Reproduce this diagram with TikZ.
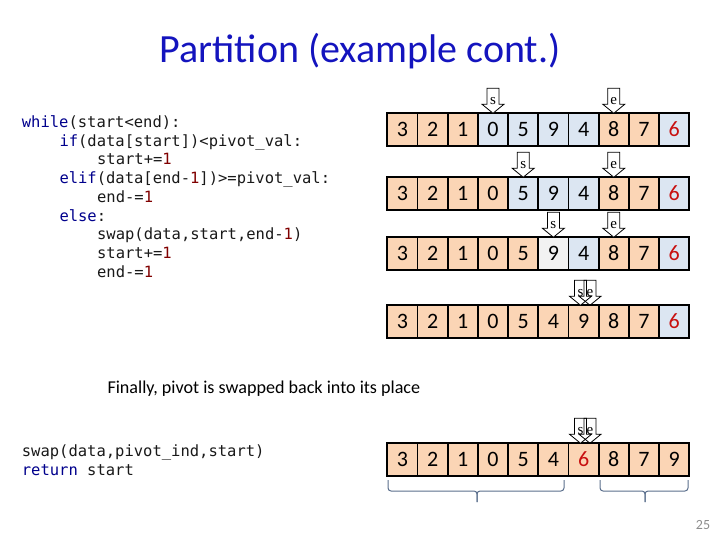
\documentclass[tikz,border=0pt]{standalone}
\usepackage{fontspec}
\setmainfont{Carlito}
\newfontfamily\codefont{DejaVu Sans Mono}
\newfontfamily\letterfont{Liberation Serif}
\definecolor{titleblue}{RGB}{20,20,190}
\definecolor{kwblue}{RGB}{0,0,140}
\definecolor{numred}{RGB}{128,0,0}
\definecolor{codegray}{RGB}{25,25,25}
\definecolor{peach}{RGB}{251,213,181}
\definecolor{bluegray}{RGB}{220,230,242}
\definecolor{lightgray}{RGB}{242,242,242}
\definecolor{digred}{RGB}{200,16,16}
\definecolor{bracecol}{RGB}{90,110,140}
\newcommand\kw[1]{\textcolor{kwblue}{#1}}
\newcommand\nm[1]{\textcolor{numred}{#1}}
\tikzset{
  codeline/.style={anchor=base west, inner sep=0pt, font=\codefont\fontsize{15.5}{18}\selectfont, text=codegray},
  cell/.style={draw=black, line width=1.8pt, minimum width=30.2pt, minimum height=32.5pt, inner sep=0pt, outer sep=0pt, font=\fontsize{22}{24}\selectfont},
  ptr/.style={draw=black, line width=0.8pt, fill=white},
  ptrletter/.style={inner sep=0pt, font=\letterfont\fontsize{15}{15}\selectfont},
  bracket/.style={draw=bracecol, line width=1pt, rounded corners=3pt}
}
% x, ytip, name, letter, fill
\newcommand\dnarrow[5]{%
  \path[ptr,fill=#5] (#1-6,#2-25) -- (#1+6,#2-25) -- (#1+6,#2-9) -- (#1+11,#2-9) -- (#1,#2) -- (#1-11,#2-9) -- (#1-6,#2-9) -- cycle;
  \node[ptrletter] (#3) at (#1,#2-12.5) {#4};
}
\newcommand\cellrow[3]{% row name, center y, list of digit/color/textcolor
  \foreach [count=\i from 0] \d/\c/\t in {#3} {
    \node[cell, fill=\c, text=\t] (#1c\i) at (387.3+15.1+\i*30.2, #2) {\d};
  }
}
\begin{document}
\begin{tikzpicture}[x=1pt,y=-1pt]
\useasboundingbox (0,0) rectangle (720,540);
% title
\node[font=\fontsize{40}{44}\selectfont, text=titleblue, anchor=base] (title) at (360,63) {Partition (example cont.)};
% code
\node[codeline] (c1) at (21.7,127.3) {\kw{while}(start<end):};
\node[codeline] (c2) at (59.3,146.05) {\kw{if}(data[start])<pivot\_val:};
\node[codeline] (c3) at (96.9,164.8) {start+=\nm{1}};
\node[codeline] (c4) at (59.3,183.55) {\kw{elif}(data[end-\nm{1}])>=pivot\_val:};
\node[codeline] (c5) at (96.9,202.3) {end-=\nm{1}};
\node[codeline] (c6) at (59.3,221.05) {\kw{else}:};
\node[codeline] (c7) at (96.9,239.8) {swap(data,start,end-\nm{1})};
\node[codeline] (c8) at (96.9,258.55) {start+=\nm{1}};
\node[codeline] (c9) at (96.9,277.3) {end-=\nm{1}};
\node[codeline] (d1) at (21.7,456.3) {swap(data,pivot\_ind,start)};
\node[codeline] (d2) at (21.7,475.0) {\kw{return} start};
% caption
\node[anchor=base west, inner sep=0pt, font=\fontsize{18.1}{20}\selectfont] (cap) at (107.3,393.5) {Finally, pivot is swapped back into its place};
% rows
\cellrow{ra}{129.5}{3/peach/black,2/peach/black,1/peach/black,0/bluegray/black,5/bluegray/black,9/bluegray/black,4/bluegray/black,8/peach/black,7/peach/black,6/bluegray/digred}
\cellrow{rb}{193.5}{3/peach/black,2/peach/black,1/peach/black,0/peach/black,5/bluegray/black,9/bluegray/black,4/bluegray/black,8/peach/black,7/peach/black,6/bluegray/digred}
\cellrow{rc}{253.5}{3/peach/black,2/peach/black,1/peach/black,0/peach/black,5/peach/black,9/lightgray/black,4/bluegray/black,8/peach/black,7/peach/black,6/bluegray/digred}
\cellrow{rd}{321.5}{3/peach/black,2/peach/black,1/peach/black,0/peach/black,5/peach/black,4/peach/black,9/peach/black,8/peach/black,7/peach/black,6/bluegray/digred}
\cellrow{re}{459.5}{3/peach/black,2/peach/black,1/peach/black,0/peach/black,5/peach/black,4/peach/black,6/peach/digred,8/peach/black,7/peach/black,9/peach/black}
% pointers
\dnarrow{493.0}{113.25}{sa}{s}{white}
\dnarrow{613.8}{113.25}{ea}{e}{white}
\dnarrow{523.2}{177.25}{sb}{s}{white}
\dnarrow{613.8}{177.25}{eb}{e}{white}
\dnarrow{553.4}{237.25}{sc}{s}{white}
\dnarrow{613.8}{237.25}{ec}{e}{white}
\dnarrow{580.5}{305.25}{sd}{s}{white}
\dnarrow{590.0}{305.25}{ed}{e}{none}
\dnarrow{580.5}{443.25}{se}{s}{white}
\dnarrow{590.0}{443.25}{ee}{e}{none}
% brackets
\draw[bracket] (388,480) -- (388,491) -- (477,491) -- (477,502);
\draw[bracket] (564,480) -- (564,491) -- (477,491) -- (477,502);
\draw[bracket] (600,480) -- (600,491) -- (645,491) -- (645,502);
\draw[bracket] (688,480) -- (688,491) -- (645,491) -- (645,502);
% page number
\node[anchor=base, inner sep=0pt, font=\fontsize{14}{16}\selectfont, text=black!45] (pg) at (703,529.3) {25};
\end{tikzpicture}
\end{document}
